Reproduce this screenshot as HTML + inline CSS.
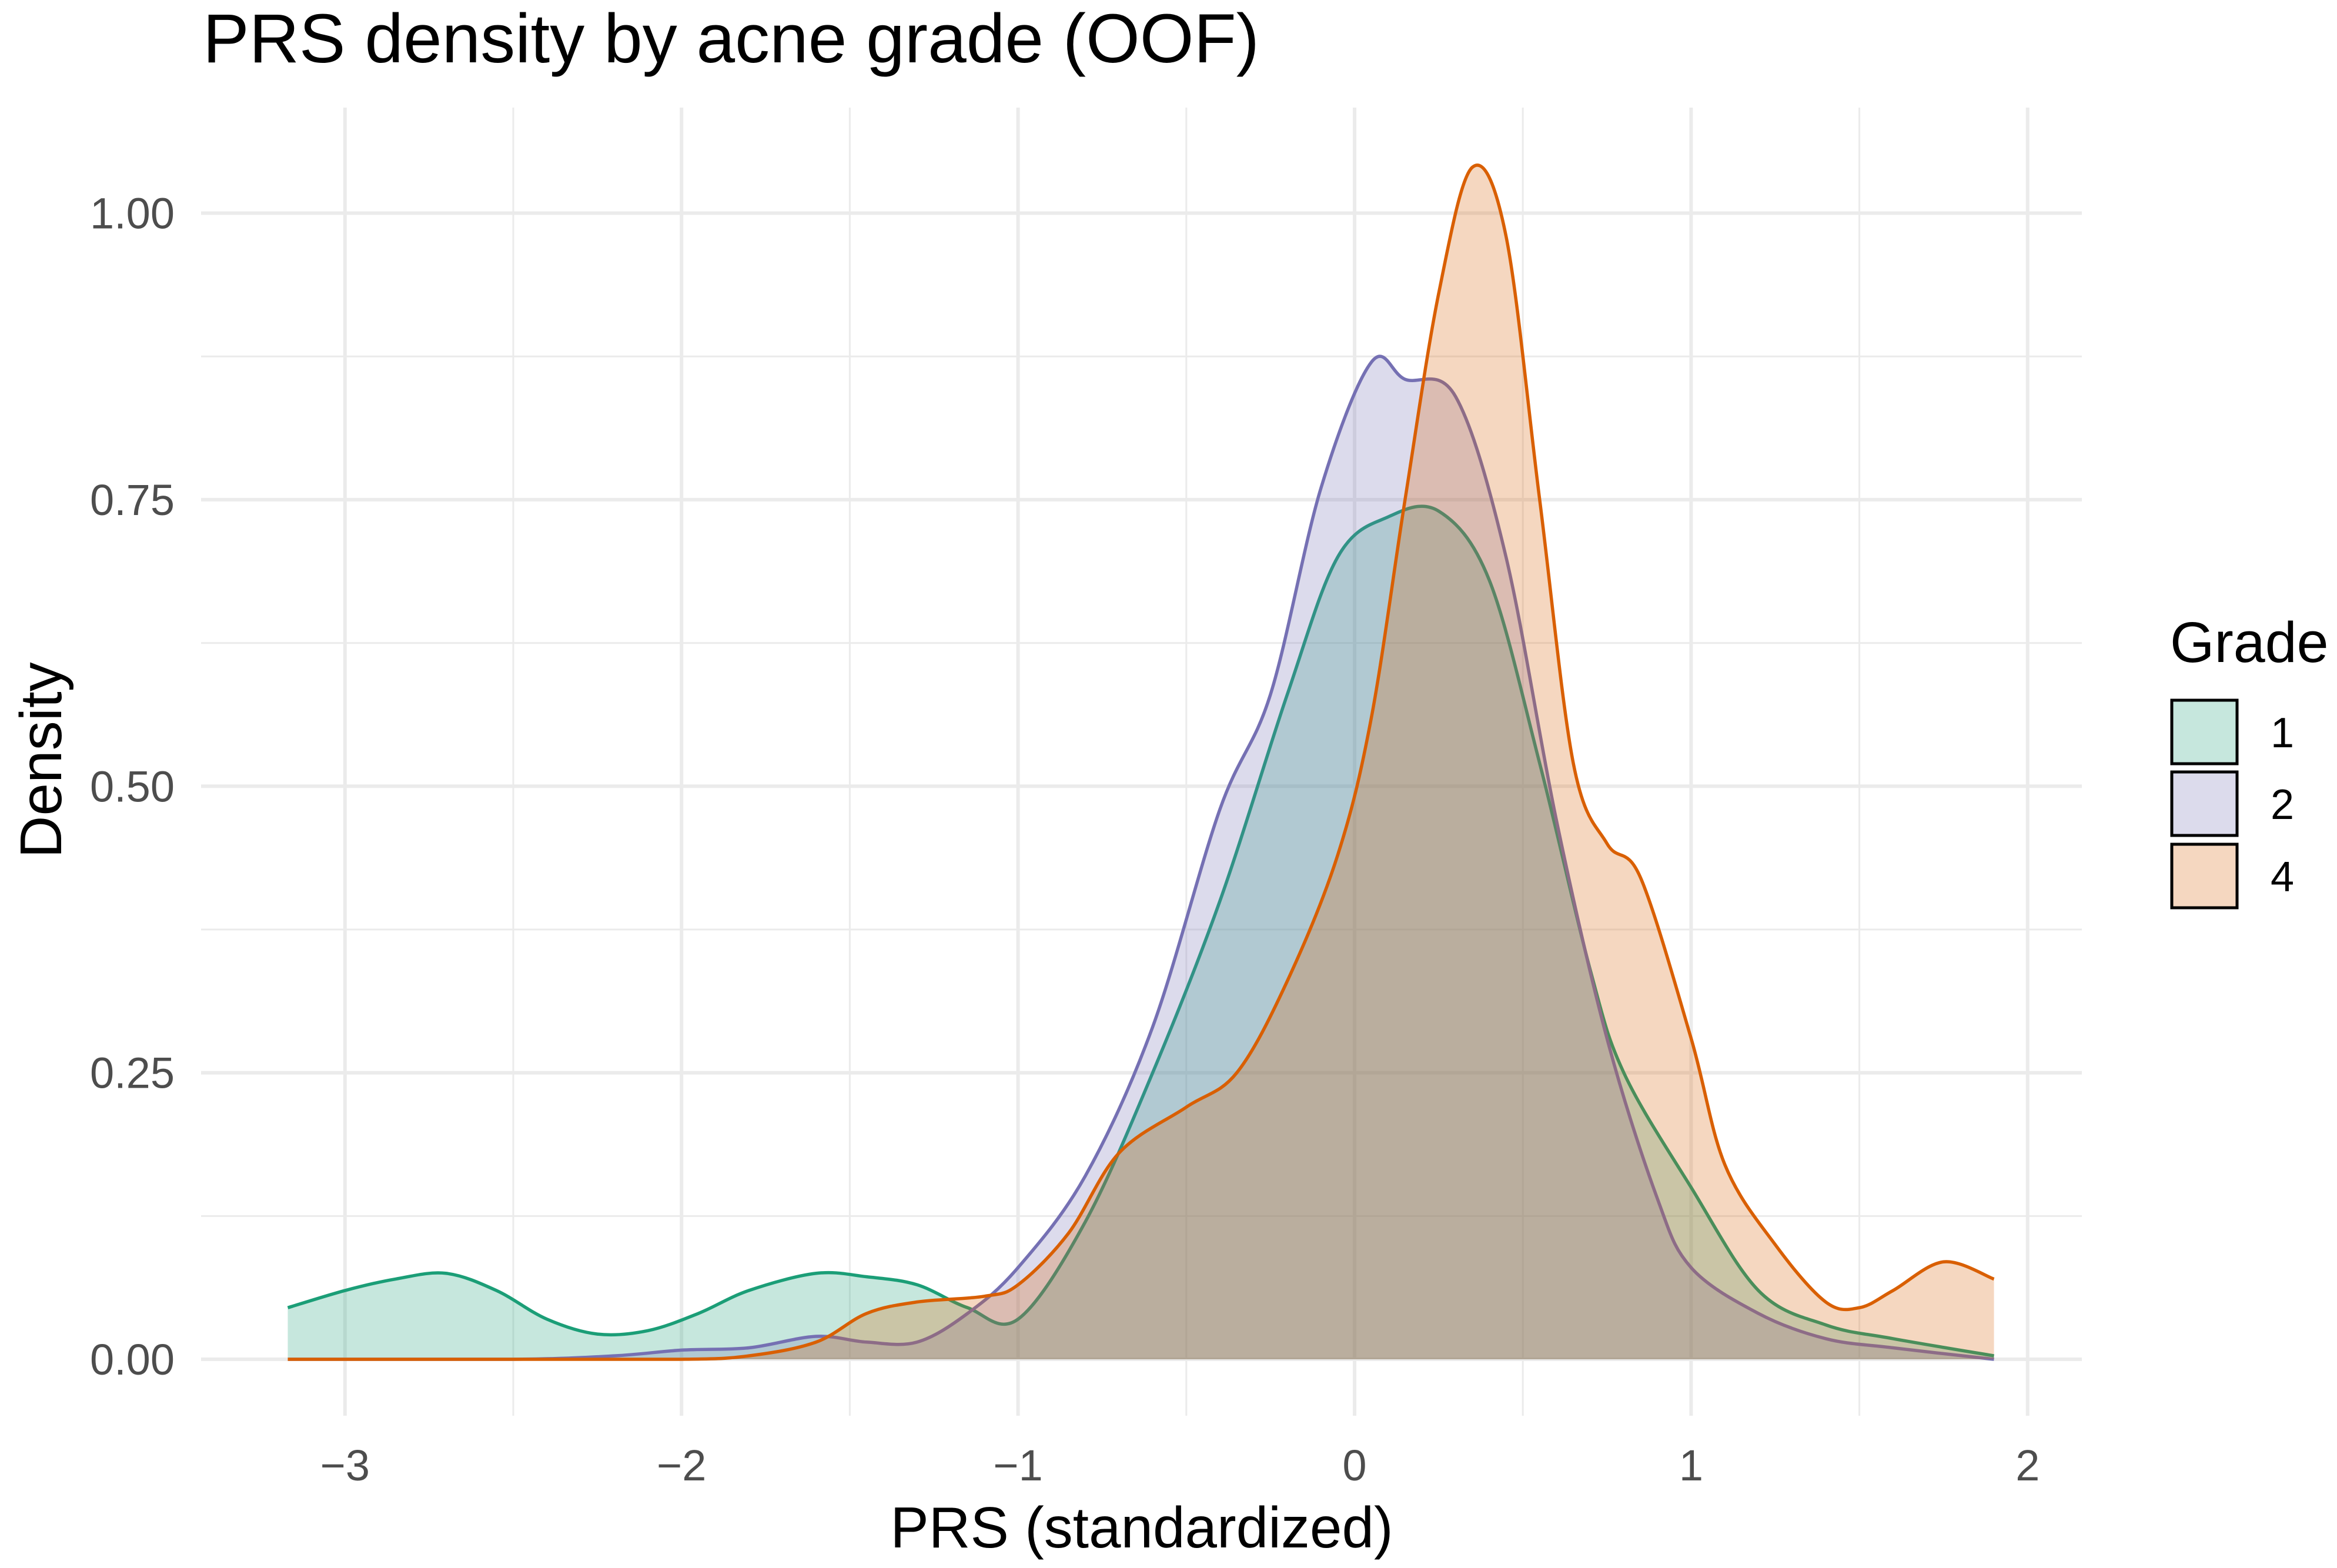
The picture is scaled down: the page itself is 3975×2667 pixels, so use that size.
<!DOCTYPE html>
<html><head><meta charset="utf-8"><style>
html,body{margin:0;padding:0;background:#fff;}
svg text{font-family:"Liberation Sans",sans-serif;}
</style></head><body>
<svg id="chart" width="3975" height="2662" xmlns="http://www.w3.org/2000/svg">
<rect width="3975" height="2662" fill="#fff"/>
<g id="grid"></g>
<g id="areas"></g>
<g id="ticks"></g>
<text x="345" y="106" font-size="118" fill="#000">PRS density by acne grade (OOF)</text>
<text x="1942" y="2632" font-size="98" text-anchor="middle" fill="#000">PRS (standardized)</text>
<text transform="translate(104,1293) rotate(-90)" font-size="100" text-anchor="middle" fill="#000">Density</text>
<g id="legend">
<text x="3691" y="1126" font-size="97" fill="#000">Grade</text>
</g>
</svg>
<script>
const groups = ["1","2","4"];
const colors = ["#1b9e77","#7570b3","#d95f02"];
const xTicks = [-3,-2,-1,0,1,2];
const xTickLabels = ["\u22123","\u22122","\u22121","0","1","2"];
const yTicks = [0,0.25,0.5,0.75,1.0];
const yTickLabels = ["0.00","0.25","0.50","0.75","1.00"];
const g1x = [-3.17,-3.0,-2.85,-2.7,-2.55,-2.4,-2.25,-2.1,-1.95,-1.8,-1.6,-1.45,-1.3,-1.15,-1.0,-0.8,-0.6,-0.4,-0.2,-0.05,0.1,0.25,0.4,0.55,0.7,0.8,1.0,1.2,1.4,1.6,1.9];
const g1y = [0.045,0.06,0.07,0.075,0.06,0.035,0.022,0.025,0.04,0.06,0.075,0.072,0.065,0.045,0.035,0.12,0.25,0.4,0.58,0.7,0.735,0.74,0.68,0.52,0.34,0.25,0.15,0.06,0.03,0.018,0.003];
const g2x = [-3.17,-2.5,-2.2,-2.0,-1.8,-1.6,-1.45,-1.3,-1.15,-1.0,-0.8,-0.6,-0.4,-0.25,-0.1,0.05,0.15,0.3,0.45,0.6,0.75,0.9,1.0,1.2,1.4,1.6,1.9];
const g2y = [0,0,0.003,0.008,0.01,0.02,0.015,0.015,0.04,0.08,0.16,0.29,0.48,0.58,0.76,0.87,0.855,0.84,0.7,0.47,0.28,0.14,0.08,0.04,0.018,0.01,0];
const g4x = [-3.17,-2.5,-2.0,-1.8,-1.6,-1.45,-1.3,-1.1,-1.0,-0.85,-0.7,-0.5,-0.35,-0.2,-0.05,0.05,0.15,0.25,0.35,0.45,0.55,0.65,0.75,0.85,1.0,1.1,1.25,1.4,1.5,1.6,1.75,1.9];
const g4y = [0,0,0,0.003,0.015,0.04,0.05,0.055,0.065,0.11,0.18,0.22,0.25,0.33,0.44,0.56,0.75,0.93,1.04,0.98,0.75,0.52,0.45,0.42,0.28,0.17,0.1,0.05,0.045,0.06,0.085,0.07];
const seriesX = [g1x,g2x,g4x];
const seriesY = [g1y,g2y,g4y];

const NS="http://www.w3.org/2000/svg";
const X = v => 2304 + v*572.4;
const Y = v => 2312 - v*1949.5;
const L=342,R=3541,T=183,B=2408;
function el(tag,attrs,parent){const e=document.createElementNS(NS,tag);for(const k in attrs)e.setAttribute(k,attrs[k]);parent.appendChild(e);return e;}
const grid=document.getElementById('grid');
for(let i=-6;i<=4;i++){
  const v=i/2;
  const major=i%2===0;
  const ln=el('line',{x1:X(v),x2:X(v),y1:T,y2:B,stroke:'#ebebeb','stroke-width':major?6:3},grid);
  
  
}
for(let i=0;i<=8;i++){
  const v=i*0.125;
  const major=i%2===0;
  const ln=el('line',{x1:L,x2:R,y1:Y(v),y2:Y(v),stroke:'#ebebeb','stroke-width':major?6:3},grid);
  
  
}
const ticks=document.getElementById('ticks');
xTicks.forEach((v,i)=>{const t=el('text',{x:X(v),y:2518,'font-size':74,'text-anchor':'middle',fill:'#4d4d4d'},ticks);t.textContent=xTickLabels[i];
  });
yTicks.forEach((v,i)=>{const t=el('text',{x:297,y:Y(v)+26,'font-size':74,'text-anchor':'end',fill:'#4d4d4d'},ticks);t.textContent=yTickLabels[i];
  });
function smooth(px,py){
  let d=`M${px[0]},${py[0]}`;
  for(let i=0;i<px.length-1;i++){
    const x0=px[Math.max(0,i-1)],y0=py[Math.max(0,i-1)],x1=px[i],y1=py[i],x2=px[i+1],y2=py[i+1],x3=px[Math.min(px.length-1,i+2)],y3=py[Math.min(px.length-1,i+2)];
    const c1x=x1+(x2-x0)/6,c1y=Math.min(Y(0),y1+(y2-y0)/6),c2x=x2-(x3-x1)/6,c2y=Math.min(Y(0),y2-(y3-y1)/6);
    d+=` C${c1x},${c1y} ${c2x},${c2y} ${x2},${y2}`;
  }
  return d;
}
const areas=document.getElementById('areas');
seriesX.forEach((xs,k)=>{
  const px=xs.map(X),py=seriesY[k].map(Y);
  const line=smooth(px,py);
  const a=el('path',{d:line+` L${px[px.length-1]},${Y(0)} L${px[0]},${Y(0)} Z`,fill:colors[k],'fill-opacity':0.25,stroke:'none'},areas);
  
  
  const l=el('path',{d:line,fill:'none',stroke:colors[k],'stroke-width':5.5},areas);
  
  
});
const legend=document.getElementById('legend');
const keyY=[1191,1313,1436];
groups.forEach((g,k)=>{
  el('rect',{x:3694,y:keyY[k],width:111,height:108,fill:'#fff'},legend);
  const r=el('rect',{x:3694,y:keyY[k],width:111,height:108,fill:colors[k],'fill-opacity':0.25,stroke:'#000','stroke-width':5},legend);
  
  
  const t=el('text',{x:3862,y:keyY[k]+80,'font-size':72,fill:'#000'},legend);
  t.textContent=g;
  
  
});
</script>
</body></html>
